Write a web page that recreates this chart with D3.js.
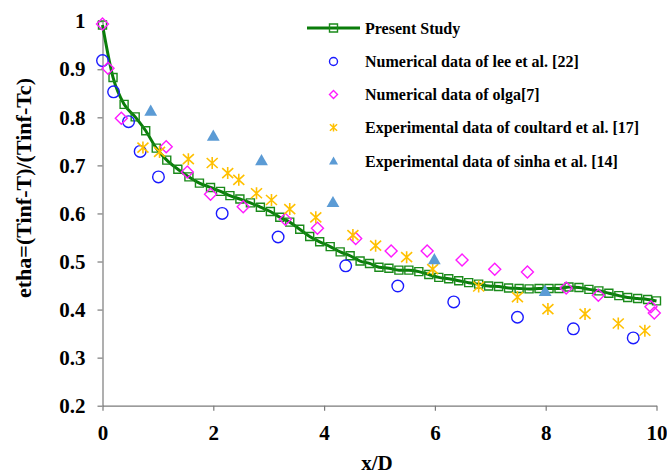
<!DOCTYPE html>
<html>
<head>
<meta charset="utf-8">
<script src="https://cdn.jsdelivr.net/npm/d3@7"></script>
</head>
<body style="margin:0;background:#fff">
<svg id="chart" width="667" height="475"></svg>
<script>
// Present study (CFD result)
const presentX = [0, 0.19, 0.39, 0.59, 0.78, 0.97, 1.16, 1.36, 1.56, 1.75, 1.95, 2.13, 2.30, 2.48, 2.67, 2.85, 3.03, 3.20, 3.38, 3.56, 3.74, 3.92, 4.11, 4.29, 4.47, 4.65, 4.82, 4.99, 5.17, 5.35, 5.53, 5.71, 5.89, 6.07, 6.25, 6.43, 6.61, 6.79, 6.97, 7.15, 7.33, 7.52, 7.70, 7.88, 8.06, 8.24, 8.42, 8.60, 8.78, 8.96, 9.14, 9.32, 9.48, 9.66, 9.84, 10];
const presentY = [0.992, 0.883, 0.827, 0.801, 0.772, 0.736, 0.711, 0.692, 0.676, 0.663, 0.654, 0.646, 0.637, 0.630, 0.622, 0.613, 0.604, 0.592, 0.582, 0.567, 0.552, 0.541, 0.531, 0.520, 0.512, 0.501, 0.496, 0.488, 0.486, 0.482, 0.482, 0.479, 0.473, 0.467, 0.464, 0.460, 0.456, 0.453, 0.449, 0.448, 0.445, 0.444, 0.443, 0.444, 0.444, 0.444, 0.447, 0.446, 0.442, 0.439, 0.434, 0.429, 0.425, 0.423, 0.421, 0.418];

// Numerical data of lee et al. [22]
const leeX = [0, 0.20, 0.47, 0.68, 1.01, 2.16, 3.17, 4.39, 5.33, 6.34, 7.49, 8.50, 9.58];
const leeY = [0.918, 0.853, 0.791, 0.729, 0.676, 0.600, 0.551, 0.491, 0.449, 0.416, 0.384, 0.360, 0.341];

// Numerical data of olga[7]
const olgaX = [0, 0.10, 0.34, 1.15, 1.53, 1.95, 2.54, 3.30, 3.88, 4.57, 5.21, 5.86, 6.49, 7.08, 7.67, 8.37, 8.95, 9.90, 9.96];
const olgaY = [0.994, 0.902, 0.798, 0.739, 0.686, 0.640, 0.614, 0.588, 0.569, 0.548, 0.522, 0.522, 0.503, 0.484, 0.478, 0.445, 0.430, 0.406, 0.393];

// Experimental data of coultard et al. [17]
const coultardX = [0.73, 1.03, 1.55, 1.98, 2.26, 2.46, 2.78, 3.05, 3.38, 3.85, 4.52, 4.93, 5.49, 5.96, 6.79, 7.49, 8.04, 8.71, 9.31, 9.79];
const coultardY = [0.737, 0.728, 0.713, 0.705, 0.684, 0.670, 0.642, 0.628, 0.609, 0.592, 0.555, 0.533, 0.509, 0.484, 0.448, 0.426, 0.401, 0.391, 0.371, 0.356];

// Experimental data of sinha et al. [14]
const sinhaX = [0.87, 2.00, 2.87, 4.16, 5.99, 7.99];
const sinhaY = [0.812, 0.760, 0.709, 0.622, 0.503, 0.437];

const xTicks = [0, 2, 4, 6, 8, 10];
const yTicks = [0.2, 0.3, 0.4, 0.5, 0.6, 0.7, 0.8, 0.9, 1];

const legendLabels = [
  "Present Study",
  "Numerical data of lee et al. [22]",
  "Numerical data of olga[7]",
  "Experimental data of coultard et al. [17]",
  "Experimental data of sinha et al. [14]"
];

const zip = (xs, ys) => xs.map((x, i) => [x, ys[i]]);
const FONT = "Liberation Serif";

const svg = d3.select("#chart");
const x = d3.scaleLinear().domain([0, 10]).range([102.5, 656.5]);
const y = d3.scaleLinear().domain([0.2, 1]).range([405.7, 21.2]);

const axisColor = "#7a7a7a";

function label(sel, size) {
  return sel.attr("font-family", FONT).attr("font-weight", "bold").attr("font-size", size).attr("fill", "#000");
}

// Axes
const gx = svg.append("g").attr("transform", `translate(0,${y(0.2)})`)
  .call(d3.axisBottom(x).tickValues(xTicks).tickFormat(d3.format("d")).tickSize(5).tickSizeOuter(0).tickPadding(14));
const gy = svg.append("g").attr("transform", `translate(${x(0)},0)`)
  .call(d3.axisLeft(y).tickValues(yTicks).tickFormat(d => d === 1 ? "1" : d3.format(".1f")(d)).tickSize(5).tickSizeOuter(0).tickPadding(12));
[gx, gy].forEach(g => {
  g.attr("font-family", FONT).attr("font-size", 21);
  g.selectAll("path, line").attr("stroke", axisColor).attr("stroke-width", 1.2);
  label(g.selectAll("text"), 21);
});

// Axis titles
label(svg.append("text"), 21).attr("x", 377).attr("y", 470).attr("text-anchor", "middle").text("x/D");
label(svg.append("text"), 22).attr("transform", "translate(31,188) rotate(-90)").attr("text-anchor", "middle")
  .text("etha=(Tinf-T)/(Tinf-Tc)");

// Marker shapes
const green = "#1a8a1a";
const squarePath = "M-4,-4H4V4H-4Z";
const diamondPath = "M0,-6L6,0L0,6L-6,0Z";
const starPath = "M0,-6V6M-5.5,-5L5.5,5M-5.5,5L5.5,-5";
const trianglePath = "M0,-7L6.4,4.2L-6.4,4.2Z";

function drawMarkers(g, pts, path, attrs) {
  const sel = g.selectAll(null).data(pts).enter().append("path")
    .attr("d", path)
    .attr("transform", d => `translate(${x(d[0])},${y(d[1])})`);
  Object.entries(attrs).forEach(([k, v]) => sel.attr(k, v));
}

const plot = svg.append("g");

// Present study: line with square markers
const present = zip(presentX, presentY);
plot.append("path").datum(present)
  .attr("fill", "none").attr("stroke", "#0a7d0a").attr("stroke-width", 3)
  .attr("d", d3.line().x(d => x(d[0])).y(d => y(d[1])).curve(d3.curveMonotoneX));
drawMarkers(plot, present, squarePath, { fill: "none", stroke: green, "stroke-width": 1.4 });

// lee: open circles
plot.selectAll(null).data(zip(leeX, leeY)).enter().append("circle")
  .attr("cx", d => x(d[0])).attr("cy", d => y(d[1])).attr("r", 5.8)
  .attr("fill", "none").attr("stroke", "#1a1aff").attr("stroke-width", 1.4);

// olga: open diamonds
drawMarkers(plot, zip(olgaX, olgaY), diamondPath, { fill: "none", stroke: "#ff1aff", "stroke-width": 1.4 });

// coultard: asterisks
drawMarkers(plot, zip(coultardX, coultardY), starPath, { fill: "none", stroke: "#ffc000", "stroke-width": 1.6 });

// sinha: filled triangles
drawMarkers(plot, zip(sinhaX, sinhaY), trianglePath, { fill: "#5b9bd5", stroke: "none" });

// Legend
const legend = svg.append("g");
const rowY = [28, 61.5, 94.5, 127.5, 161];
const markerX = 333.5;
legend.append("line").attr("x1", 307).attr("x2", 360).attr("y1", rowY[0]).attr("y2", rowY[0])
  .attr("stroke", "#0a7d0a").attr("stroke-width", 3);
legend.append("path").attr("d", squarePath).attr("transform", `translate(${markerX},${rowY[0]})`)
  .attr("fill", "none").attr("stroke", green).attr("stroke-width", 1.4);
legend.append("circle").attr("cx", markerX).attr("cy", rowY[1]).attr("r", 4)
  .attr("fill", "none").attr("stroke", "#1a1aff").attr("stroke-width", 1.4);
legend.append("path").attr("d", "M0,-4L4,0L0,4L-4,0Z").attr("transform", `translate(${markerX},${rowY[2]})`)
  .attr("fill", "none").attr("stroke", "#ff1aff").attr("stroke-width", 1.4);
legend.append("path").attr("d", "M0,-4V4M-3.6,-3.2L3.6,3.2M-3.6,3.2L3.6,-3.2").attr("transform", `translate(${markerX},${rowY[3]})`)
  .attr("fill", "none").attr("stroke", "#ffc000").attr("stroke-width", 1.5);
legend.append("path").attr("d", "M0,-4.5L4.5,3.5L-4.5,3.5Z").attr("transform", `translate(${markerX},${rowY[4]})`)
  .attr("fill", "#5b9bd5");
label(legend.selectAll(null).data(legendLabels).enter().append("text"), 16)
  .attr("x", 365).attr("y", (d, i) => rowY[i] + 5.5)
  .text(d => d);
</script>
</body>
</html>
